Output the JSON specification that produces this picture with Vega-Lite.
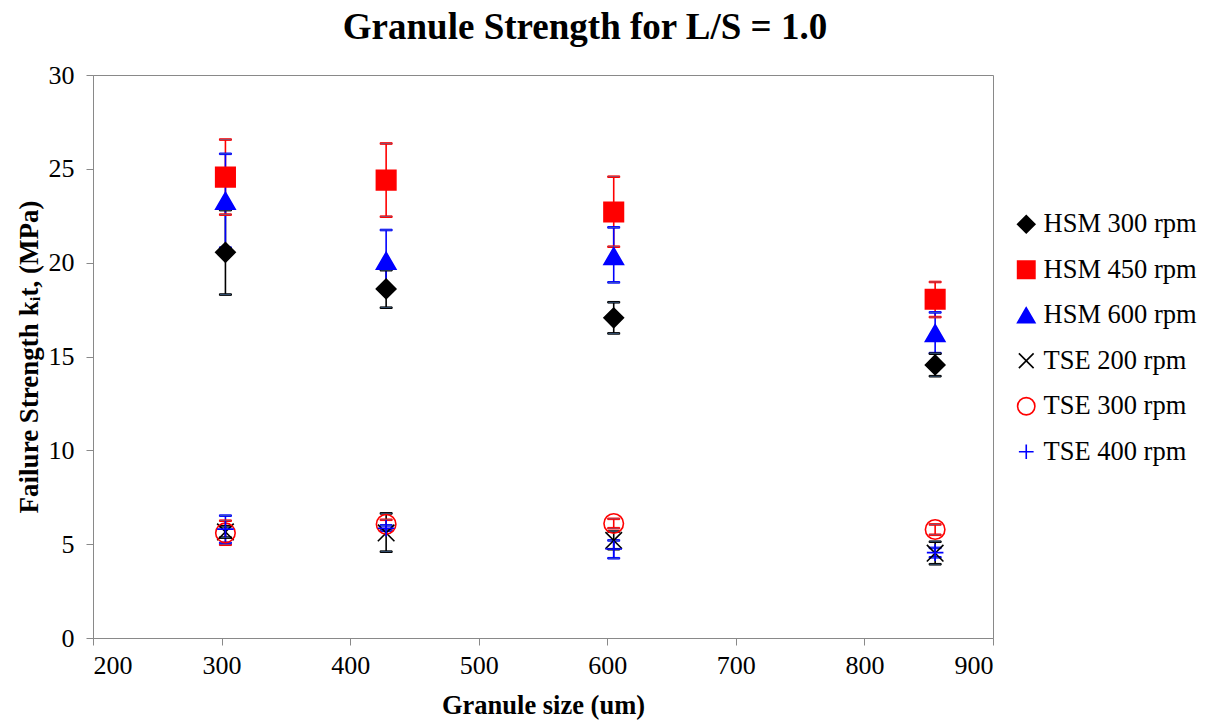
{
  "$schema": "https://vega.github.io/schema/vega-lite/v6.json",
  "width": 900,
  "height": 563,
  "autosize": {"type": "none"},
  "padding": {"left": 93, "top": 75, "right": 222, "bottom": 82},
  "background": "white",
  "title": {
    "text": "Granule Strength for L/S = 1.0",
    "font": "Liberation Serif",
    "fontSize": 37,
    "fontWeight": "bold",
    "color": "black",
    "anchor": "middle",
    "frame": "group",
    "dx": 42,
    "offset": 15
  },
  "config": {
    "font": "Times New Roman, Liberation Serif, DejaVu Serif, serif",
    "view": {"stroke": "#898989", "strokeWidth": 1},
    "tick": {"opacity": 1},
    "axis": {
      "grid": false,
      "domainColor": "#898989",
      "tickColor": "#898989",
      "tickSize": 7,
      "labelFont": "Times New Roman, Liberation Serif, DejaVu Serif, serif",
      "labelFontSize": 26,
      "labelColor": "black",
      "titleFont": "Liberation Serif",
      "titleFontWeight": "bold",
      "titleColor": "black"
    },
    "legend": {
      "orient": "none",
      "legendX": 920,
      "legendY": 136,
      "labelFont": "Times New Roman, Liberation Serif, DejaVu Serif, serif",
      "labelFontSize": 26.5,
      "labelColor": "black",
      "symbolSize": 300,
      "symbolOpacity": 1,
      "symbolStrokeWidth": 1.6,
      "rowPadding": 18.5,
      "labelOffset": 4
    }
  },
  "data": {
    "values": [
      {"size": 303, "series": "HSM 300 rpm", "strength": 20.55, "lo": 18.3, "hi": 22.8},
      {"size": 428, "series": "HSM 300 rpm", "strength": 18.6, "lo": 17.6, "hi": 19.6},
      {"size": 605, "series": "HSM 300 rpm", "strength": 17.06, "lo": 16.23, "hi": 17.89},
      {"size": 855, "series": "HSM 300 rpm", "strength": 14.55, "lo": 13.95, "hi": 15.15},
      {"size": 303, "series": "HSM 450 rpm", "strength": 24.56, "lo": 22.56, "hi": 26.56},
      {"size": 428, "series": "HSM 450 rpm", "strength": 24.4, "lo": 22.45, "hi": 26.35},
      {"size": 605, "series": "HSM 450 rpm", "strength": 22.7, "lo": 20.85, "hi": 24.58},
      {"size": 855, "series": "HSM 450 rpm", "strength": 18.05, "lo": 17.1, "hi": 18.97},
      {"size": 303, "series": "HSM 600 rpm", "strength": 23.3, "lo": 20.8, "hi": 25.8},
      {"size": 428, "series": "HSM 600 rpm", "strength": 20.1, "lo": 18.46, "hi": 21.74},
      {"size": 605, "series": "HSM 600 rpm", "strength": 20.35, "lo": 18.95, "hi": 21.88},
      {"size": 855, "series": "HSM 600 rpm", "strength": 16.25, "lo": 15.18, "hi": 17.35},
      {"size": 303, "series": "TSE 200 rpm", "strength": 5.65, "lo": 5.35, "hi": 5.95},
      {"size": 428, "series": "TSE 200 rpm", "strength": 5.6, "lo": 4.6, "hi": 6.64},
      {"size": 605, "series": "TSE 200 rpm", "strength": 5.2, "lo": 4.73, "hi": 5.67},
      {"size": 855, "series": "TSE 200 rpm", "strength": 4.52, "lo": 3.93, "hi": 5.13},
      {"size": 303, "series": "TSE 300 rpm", "strength": 5.6, "lo": 4.97, "hi": 6.25},
      {"size": 428, "series": "TSE 300 rpm", "strength": 6.06, "lo": 5.8, "hi": 6.3},
      {"size": 605, "series": "TSE 300 rpm", "strength": 6.1, "lo": 5.85, "hi": 6.35},
      {"size": 855, "series": "TSE 300 rpm", "strength": 5.78, "lo": 5.5, "hi": 6.05},
      {"size": 303, "series": "TSE 400 rpm", "strength": 5.8, "lo": 5.07, "hi": 6.52},
      {"size": 428, "series": "TSE 400 rpm", "strength": 5.85, "lo": 5.72, "hi": 6.0},
      {"size": 605, "series": "TSE 400 rpm", "strength": 4.74, "lo": 4.25, "hi": 5.2},
      {"size": 855, "series": "TSE 400 rpm", "strength": 4.55, "lo": 4.3, "hi": 4.8}
    ]
  },
  "encoding": {
    "x": {
      "field": "size",
      "type": "quantitative",
      "scale": {"domain": [200, 900], "nice": false, "zero": false},
      "axis": {
        "values": [200, 300, 400, 500, 600, 700, 800, 900],
        "title": "Granule size (um)",
        "titleFontSize": 26.5,
        "titlePadding": 14,
        "labelPadding": 7
      }
    },
    "stroke": {
      "field": "series",
      "type": "nominal",
      "title": null,
      "scale": {
        "domain": ["HSM 300 rpm", "HSM 450 rpm", "HSM 600 rpm", "TSE 200 rpm", "TSE 300 rpm", "TSE 400 rpm"],
        "range": ["black", "#ff0000", "#0000ff", "black", "#ff0000", "#0000ff"]
      }
    }
  },
  "layer": [
    {
      "mark": {"type": "rule", "strokeWidth": 1.6},
      "encoding": {
        "y": {"field": "lo", "type": "quantitative", "title": "Failure Strength kᵢt, (MPa)"},
        "y2": {"field": "hi"}
      }
    },
    {
      "mark": {"type": "tick", "orient": "horizontal", "size": 12, "thickness": 1.6, "opacity": 1},
      "encoding": {
        "y": {"field": "lo", "type": "quantitative", "title": "Failure Strength kᵢt, (MPa)"}
      }
    },
    {
      "mark": {"type": "tick", "orient": "horizontal", "size": 12, "thickness": 1.6, "opacity": 1},
      "encoding": {
        "y": {"field": "hi", "type": "quantitative", "title": "Failure Strength kᵢt, (MPa)"}
      }
    },
    {
      "mark": {"type": "point", "size": 380, "strokeWidth": 1.6, "opacity": 1, "fillOpacity": 1},
      "encoding": {
        "y": {
          "field": "strength",
          "type": "quantitative",
          "title": "Failure Strength kᵢt, (MPa)",
          "scale": {"domain": [0, 30], "nice": false},
          "axis": {
            "values": [0, 5, 10, 15, 20, 25, 30],
            "titleFontSize": 27,
            "titlePadding": 5,
            "labelPadding": 12
          }
        },
        "shape": {
          "field": "series",
          "type": "nominal",
          "title": null,
          "scale": {
            "domain": ["HSM 300 rpm", "HSM 450 rpm", "HSM 600 rpm", "TSE 200 rpm", "TSE 300 rpm", "TSE 400 rpm"],
            "range": ["diamond", "square", "triangle-up", "M-0.85,-0.85L0.85,0.85M-0.85,0.85L0.85,-0.85", "circle", "M-0.85,0L0.85,0M0,-0.85L0,0.85"]
          }
        },
        "fill": {
          "field": "series",
          "type": "nominal",
          "title": null,
          "scale": {
            "domain": ["HSM 300 rpm", "HSM 450 rpm", "HSM 600 rpm", "TSE 200 rpm", "TSE 300 rpm", "TSE 400 rpm"],
            "range": ["black", "#ff0000", "#0000ff", "transparent", "transparent", "transparent"]
          }
        }
      }
    }
  ]
}
